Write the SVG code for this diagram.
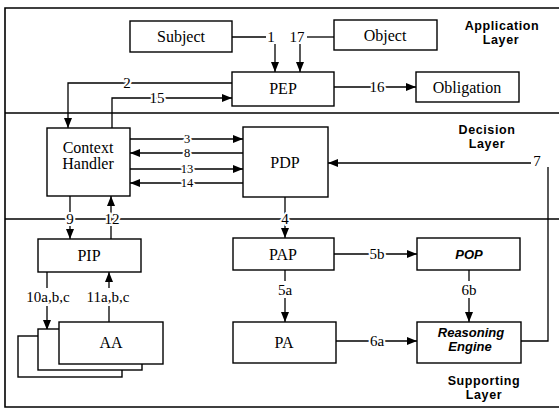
<svg xmlns="http://www.w3.org/2000/svg" width="559" height="411" viewBox="0 0 559 411">
<style>
.frame{fill:none;stroke:#000;stroke-width:1.6}
.box{fill:#fff;stroke:#000;stroke-width:1.4}
.bt{font-family:"Liberation Serif","Times New Roman",serif;font-size:16px;text-anchor:middle;fill:#000}
.bi{font-family:"Liberation Sans",Arial,sans-serif;font-size:13px;font-weight:bold;font-style:italic;text-anchor:middle;fill:#000}
.ly{font-family:"Liberation Sans",Arial,sans-serif;font-size:12.5px;font-weight:bold;letter-spacing:0.6px;text-anchor:middle;fill:#000}
.ln{fill:none;stroke:#000;stroke-width:1.3}
.lb{font-family:"Liberation Serif","Times New Roman",serif;font-size:15px;text-anchor:middle;fill:#000;stroke:#fff;stroke-width:4px;paint-order:stroke;stroke-linejoin:round}
.sm{font-size:12.5px}
</style>
<defs>
<marker id="ah" viewBox="0 0 10 8" refX="10" refY="4" markerWidth="11" markerHeight="8" markerUnits="userSpaceOnUse" orient="auto">
<path d="M0,0 L10,4 L0,8 z" fill="#000"/>
</marker>
</defs>
<rect width="559" height="411" fill="#fff"/>
<g id="frame">
<path class="frame" d="M559,8 H5 V407 H559"/>
<line class="frame" x1="5" y1="113" x2="559" y2="113"/>
<line class="frame" x1="5" y1="219" x2="559" y2="219"/>
</g>
<g id="layers">
<text class="ly" x="502" y="30">Application</text>
<text class="ly" x="501" y="44">Layer</text>
<text class="ly" x="487" y="134">Decision</text>
<text class="ly" x="487" y="148">Layer</text>
<text class="ly" x="484" y="385">Supporting</text>
<text class="ly" x="484" y="399">Layer</text>
</g>
<g id="connectors">
<path class="ln" d="M232,37 H266"/>
<path class="ln" d="M275,44 V72" marker-end="url(#ah)"/>
<path class="ln" d="M307,37 H334"/>
<path class="ln" d="M300,44 V72" marker-end="url(#ah)"/>
<path class="ln" d="M232,83 H68 V128" marker-end="url(#ah)"/>
<path class="ln" d="M112,128 V98 H232" marker-end="url(#ah)"/>
<path class="ln" d="M334,87 H416" marker-end="url(#ah)"/>
<path class="ln" d="M130,139 H243" marker-end="url(#ah)"/>
<path class="ln" d="M243,153 H130" marker-end="url(#ah)"/>
<path class="ln" d="M130,169 H243" marker-end="url(#ah)"/>
<path class="ln" d="M243,183 H130" marker-end="url(#ah)"/>
<path class="ln" d="M285,197 V238" marker-end="url(#ah)"/>
<path class="ln" d="M70,196 V239" marker-end="url(#ah)"/>
<path class="ln" d="M111,239 V196" marker-end="url(#ah)"/>
<path class="ln" d="M521,341 H548 V167"/>
<path class="ln" d="M531,163 H328" marker-end="url(#ah)"/>
<path class="ln" d="M334,254 H417" marker-end="url(#ah)"/>
<path class="ln" d="M285,270 V281"/>
<path class="ln" d="M285,298 V322" marker-end="url(#ah)"/>
<path class="ln" d="M469,270 V281"/>
<path class="ln" d="M469,298 V322" marker-end="url(#ah)"/>
<path class="ln" d="M336,341 H417" marker-end="url(#ah)"/>
<path class="ln" d="M47,272 V288"/>
<path class="ln" d="M47,306 V330" marker-end="url(#ah)"/>
<path class="ln" d="M109,322 V306"/>
<path class="ln" d="M109,288 V272" marker-end="url(#ah)"/>
<text class="lb" x="271" y="42">1</text>
<text class="lb" x="297" y="42">17</text>
<text class="lb" x="127" y="88">2</text>
<text class="lb" x="157" y="103">15</text>
<text class="lb" x="377" y="92">16</text>
<text class="lb sm" x="187" y="143">3</text>
<text class="lb sm" x="187" y="157">8</text>
<text class="lb sm" x="187" y="173">13</text>
<text class="lb sm" x="187" y="187">14</text>
<text class="lb" x="285" y="224">4</text>
<text class="lb" x="70" y="224">9</text>
<text class="lb" x="112" y="224">12</text>
<text class="lb" x="537" y="166">7</text>
<text class="lb" x="377" y="259">5b</text>
<text class="lb" x="285" y="295">5a</text>
<text class="lb" x="469" y="295">6b</text>
<text class="lb" x="377" y="346">6a</text>
<text class="lb" x="48" y="302">10a,b,c</text>
<text class="lb" x="108" y="302">11a,b,c</text>
</g>
<g id="subject"><rect class="box" x="130" y="21" width="102" height="31"/><text class="bt" x="181" y="42">Subject</text></g>
<g id="object"><rect class="box" x="334" y="20" width="103" height="30"/><text class="bt" x="385" y="41">Object</text></g>
<g id="pep"><rect class="box" x="232" y="72" width="102" height="34"/><text class="bt" x="283" y="94">PEP</text></g>
<g id="obligation"><rect class="box" x="416" y="72" width="103" height="30"/><text class="bt" x="467" y="93">Obligation</text></g>
<g id="context-handler"><rect class="box" x="47" y="128" width="83" height="68"/><text class="bt" x="88" y="153">Context</text><text class="bt" x="88" y="169">Handler</text></g>
<g id="pdp"><rect class="box" x="243" y="127" width="85" height="70"/><text class="bt" x="285" y="168">PDP</text></g>
<g id="pip"><rect class="box" x="38" y="239" width="103" height="33"/><text class="bt" x="89" y="261">PIP</text></g>
<g id="pap"><rect class="box" x="233" y="238" width="101" height="32"/><text class="bt" x="283" y="260">PAP</text></g>
<g id="pop"><rect class="box" x="417" y="238" width="103" height="32"/><text class="bi" x="469" y="259">POP</text></g>
<g id="pa"><rect class="box" x="233" y="322" width="103" height="41"/><text class="bt" x="284" y="348">PA</text></g>
<g id="reasoning-engine"><rect class="box" x="417" y="322" width="104" height="41"/><text class="bi" x="471" y="337">Reasoning</text><text class="bi" x="470" y="351">Engine</text></g>
<g id="aa">
<rect class="box" x="18" y="336" width="104" height="41"/>
<rect class="box" x="38" y="329" width="104" height="41"/>
<rect class="box" x="59" y="322" width="104" height="42"/>
<text class="bt" x="111" y="348">AA</text>
</g>
</svg>
